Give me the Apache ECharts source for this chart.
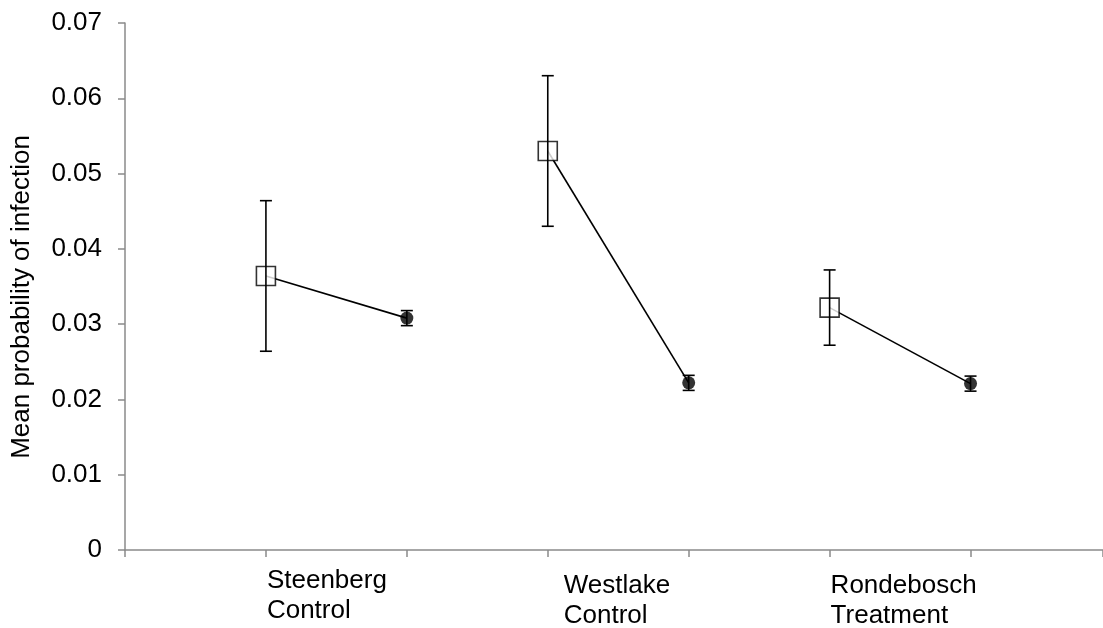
<!DOCTYPE html>
<html>
<head>
<meta charset="utf-8">
<script src="https://cdn.jsdelivr.net/npm/echarts@6/dist/echarts.min.js"></script>
<style>
  html, body { margin: 0; padding: 0; background: #fff; }
  #main { width: 1103px; height: 628px; }
</style>
</head>
<body>
<div id="main"></div>
<script>
var groups = ['Steenberg\nControl', 'Westlake\nControl', 'Rondebosch\nTreatment'];
var squareMean = [0.0364, 0.0530, 0.0322];
var squareErr = [0.0100, 0.0100, 0.0050];
var circleMean = [0.0308, 0.0222, 0.0221];
var circleErr = [0.0010, 0.0010, 0.0010];

var FONT = 'Liberation Sans, Arial, sans-serif';
var AXIS_GREY = '#8a8a8a';

// squares sit on odd ticks, circles on the tick after them
var squarePts = squareMean.map(function (v, i) { return [2 * i + 1, v]; });
var circlePts = circleMean.map(function (v, i) { return [2 * i + 2, v]; });

var errData = [];
squareMean.forEach(function (v, i) { errData.push([2 * i + 1, v - squareErr[i], v + squareErr[i]]); });
circleMean.forEach(function (v, i) { errData.push([2 * i + 2, v - circleErr[i], v + circleErr[i]]); });

var lineSeries = groups.map(function (g, i) {
    return {
        type: 'line',
        data: [squarePts[i], circlePts[i]],
        symbol: 'none',
        z: 2,
        lineStyle: { color: '#000', width: 1.6 },
        silent: true
    };
});

var myChart = echarts.init(document.getElementById('main'));

var option = {
    backgroundColor: '#fff',
    animation: false,
    grid: { left: 125, right: 0, top: 23, bottom: 78 },
    xAxis: {
        type: 'value',
        min: 0,
        max: 6.94,   // axis runs off the right edge just before the 7th tick
        interval: 1,
        axisLine: { lineStyle: { color: AXIS_GREY, width: 1.5 } },
        axisTick: { show: true, length: 7, lineStyle: { color: AXIS_GREY, width: 1.5 } },
        axisLabel: { show: false },
        splitLine: { show: false }
    },
    yAxis: {
        type: 'value',
        min: 0,
        max: 0.07,
        interval: 0.01,
        axisLine: { show: true, lineStyle: { color: AXIS_GREY, width: 1.5 } },
        axisTick: { show: true, length: 7, lineStyle: { color: AXIS_GREY, width: 1.5 } },
        axisLabel: { color: '#000', fontFamily: FONT, fontSize: 26, margin: 23 },
        splitLine: { show: false }
    },
    series: lineSeries.concat([
        {
            type: 'scatter',
            data: squarePts,
            symbol: 'rect',
            symbolSize: 19,
            z: 3,
            itemStyle: { color: '#fff', borderColor: '#000', borderWidth: 1.6 }
        },
        {
            type: 'scatter',
            data: circlePts,
            symbol: 'circle',
            symbolSize: 13,
            z: 3,
            itemStyle: { color: '#000' }
        },
        {
            type: 'custom',
            z: 4,
            data: errData,
            renderItem: function (params, api) {
                var x = api.value(0);
                var lo = api.coord([x, api.value(1)]);
                var hi = api.coord([x, api.value(2)]);
                var half = 6;
                var st = { stroke: '#000', lineWidth: 1.6 };
                return {
                    type: 'group',
                    children: [
                        { type: 'line', shape: { x1: lo[0], y1: lo[1], x2: hi[0], y2: hi[1] }, style: st },
                        { type: 'line', shape: { x1: hi[0] - half, y1: hi[1], x2: hi[0] + half, y2: hi[1] }, style: st },
                        { type: 'line', shape: { x1: lo[0] - half, y1: lo[1], x2: lo[0] + half, y2: lo[1] }, style: st }
                    ]
                };
            }
        }
    ])
};
myChart.setOption(option);

// group labels under the squares, plus the rotated y title
var labelShift = [[1, -5], [16, 0], [1, 0]];
var graphics = groups.map(function (g, i) {
    var p = myChart.convertToPixel({ gridIndex: 0 }, [2 * i + 1, 0]);
    return {
        type: 'text',
        x: p[0] + labelShift[i][0],
        y: p[1] + 21 + labelShift[i][1],
        style: {
            text: g,
            fill: '#000',
            font: '26px ' + FONT,
            lineHeight: 30,
            textAlign: 'left',
            textVerticalAlign: 'top'
        }
    };
});
graphics.push({
    type: 'text',
    x: 22,
    y: 297,
    rotation: Math.PI / 2,
    style: {
        text: 'Mean probability of infection',
        fill: '#000',
        font: '26px ' + FONT,
        textAlign: 'center',
        textVerticalAlign: 'middle'
    }
});
myChart.setOption({ graphic: graphics });
</script>
</body>
</html>
